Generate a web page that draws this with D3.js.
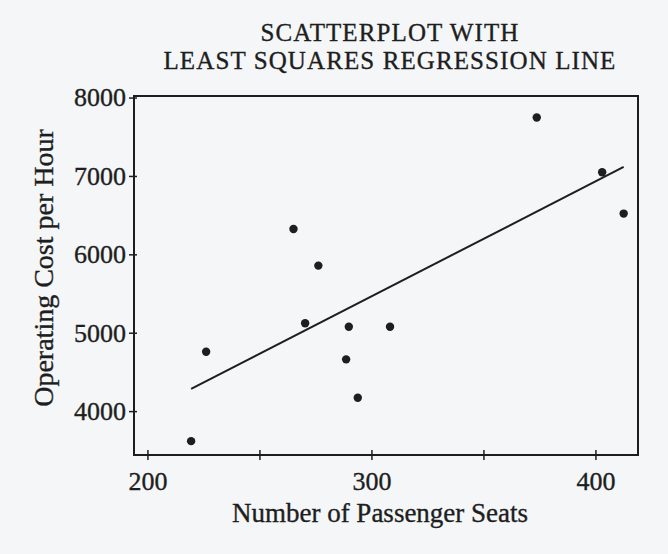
<!DOCTYPE html>
<html>
<head>
<meta charset="utf-8">
<script src="https://cdn.jsdelivr.net/npm/d3@7"></script>
<style>
  html, body { margin: 0; padding: 0; background: #f4f6f8; }
  svg { display: block; }
  text { font-family: "Liberation Serif", "Times New Roman", serif; fill: #1e1e1e; stroke: #1e1e1e; stroke-width: 0.35px; }
</style>
</head>
<body>
<div id="chart"></div>
<script>
// data
var seats = [219.5, 226.2, 265.2, 270.4, 276.3, 288.7, 289.9, 293.9, 308.3, 373.8, 403.0, 412.6];
var costPerHour = [3617, 4757, 6324, 5120, 5856, 4660, 5077, 4170, 5077, 7746, 7048, 6520];
var xTicks = [200, 250, 300, 350, 400];
var xTickLabels = [200, 300, 400];
var yTicks = [4000, 5000, 6000, 7000, 8000];
var titleLines = ["SCATTERPLOT WITH", "LEAST SQUARES REGRESSION LINE"];

var width = 668,
    height = 554,
    frame = {left: 134, top: 96, right: 638, bottom: 455},
    ink = "#1e1e1e";

var points = seats.map(function (s, i) { return {x: s, y: costPerHour[i]}; });

var svg = d3.select("#chart").append("svg")
    .attr("width", width)
    .attr("height", height);

var x = d3.scaleLinear().domain([194, 419]).range([frame.left, frame.right]),
    y = d3.scaleLinear().domain([3440, 8020]).range([frame.bottom, frame.top]);

// least squares fit
var mx = d3.mean(points, function (d) { return d.x; }),
    my = d3.mean(points, function (d) { return d.y; }),
    sxy = d3.sum(points, function (d) { return (d.x - mx) * (d.y - my); }),
    sxx = d3.sum(points, function (d) { return (d.x - mx) * (d.x - mx); }),
    slope = sxy / sxx,
    intercept = my - slope * mx,
    fit = d3.extent(seats).map(function (v) { return {x: v, y: intercept + slope * v}; });

// title
svg.append("g").selectAll("text")
    .data(titleLines)
    .enter()
    .append("text")
    .attr("x", 390)
    .attr("y", function (d, i) { return 41 + i * 28; })
    .attr("text-anchor", "middle")
    .style("font-size", "25px")
    .style("letter-spacing", "1.1px")
    .text(function (d) { return d; });

// frame
svg.append("rect")
    .attr("x", frame.left)
    .attr("y", frame.top)
    .attr("width", frame.right - frame.left)
    .attr("height", frame.bottom - frame.top)
    .style("fill", "none")
    .style("stroke", ink)
    .style("stroke-width", "2px");

// axes, ticks cross the frame line
var xAxis = svg.append("g")
    .attr("transform", "translate(0," + frame.bottom + ")")
    .call(d3.axisBottom(x)
        .tickValues(xTicks)
        .tickSizeInner(5)
        .tickSizeOuter(0)
        .tickPadding(12)
        .tickFormat(function (d) { return xTickLabels.indexOf(d) >= 0 ? d : ""; }));

var yAxis = svg.append("g")
    .attr("transform", "translate(" + frame.left + ",0)")
    .call(d3.axisLeft(y)
        .tickValues(yTicks)
        .tickSizeInner(5)
        .tickSizeOuter(0)
        .tickPadding(3)
        .tickFormat(d3.format("d")));

xAxis.select(".domain").remove();
yAxis.select(".domain").remove();
xAxis.selectAll(".tick line").attr("y1", -5).attr("y2", 5)
    .style("stroke", ink).style("stroke-width", "1.5px");
yAxis.selectAll(".tick line").attr("x1", 3).attr("x2", -5)
    .style("stroke", ink).style("stroke-width", "1.5px");
svg.selectAll(".tick text")
    .style("font-family", "'Liberation Serif', serif")
    .style("font-size", "26px")
    .style("fill", ink);

// axis titles
svg.append("text")
    .attr("x", 380)
    .attr("y", 522)
    .attr("text-anchor", "middle")
    .style("font-size", "27px")
    .text("Number of Passenger Seats");

svg.append("text")
    .attr("transform", "translate(53,268) rotate(-90)")
    .attr("text-anchor", "middle")
    .style("font-size", "28px")
    .text("Operating Cost per Hour");

// regression line
svg.append("path")
    .datum(fit)
    .attr("d", d3.line()
        .x(function (d) { return x(d.x); })
        .y(function (d) { return y(d.y); }))
    .style("fill", "none")
    .style("stroke", ink)
    .style("stroke-width", "2px");

// points
svg.append("g").selectAll("circle")
    .data(points)
    .enter()
    .append("circle")
    .attr("cx", function (d) { return x(d.x); })
    .attr("cy", function (d) { return y(d.y); })
    .attr("r", 4.2)
    .style("fill", ink);
</script>
</body>
</html>
